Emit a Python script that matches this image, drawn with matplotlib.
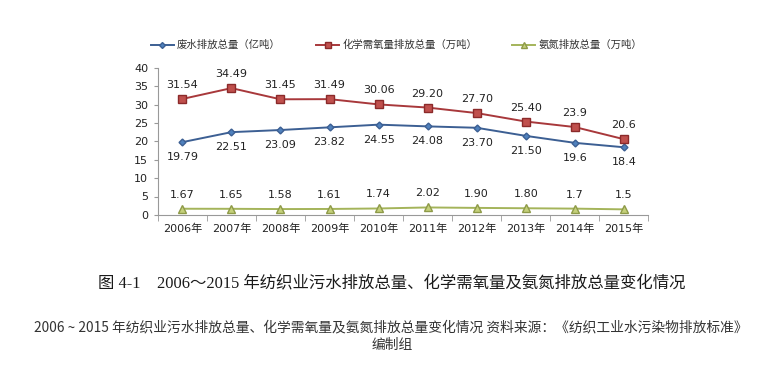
import matplotlib
matplotlib.use("Agg")
import matplotlib.pyplot as plt
from matplotlib.lines import Line2D

plt.rcParams['font.family'] = ['DejaVu Sans', 'Noto Sans CJK SC']

years = ["2006年", "2007年", "2008年", "2009年", "2010年", "2011年", "2012年", "2013年", "2014年", "2015年"]
wastewater = [19.79, 22.51, 23.09, 23.82, 24.55, 24.08, 23.70, 21.50, 19.6, 18.4]
wastewater_labels = ["19.79", "22.51", "23.09", "23.82", "24.55", "24.08", "23.70", "21.50", "19.6", "18.4"]
cod = [31.54, 34.49, 31.45, 31.49, 30.06, 29.20, 27.70, 25.40, 23.9, 20.6]
cod_labels = ["31.54", "34.49", "31.45", "31.49", "30.06", "29.20", "27.70", "25.40", "23.9", "20.6"]
ammonia = [1.67, 1.65, 1.58, 1.61, 1.74, 2.02, 1.90, 1.80, 1.7, 1.5]
ammonia_labels = ["1.67", "1.65", "1.58", "1.61", "1.74", "2.02", "1.90", "1.80", "1.7", "1.5"]
series_names = ["废水排放总量（亿吨）", "化学需氧量排放总量（万吨）", "氨氮排放总量（万吨）"]
yticks = [0, 5, 10, 15, 20, 25, 30, 35, 40]

fig = plt.figure(figsize=(7.7, 3.75), dpi=100)
ax = fig.add_axes([0.205, 0.427, 0.637, 0.392])

x = list(range(len(years)))
c_blue = "#3C5F93"
c_red = "#A8383B"
c_green = "#A4B45A"

ax.plot(x, wastewater, color=c_blue, lw=1.4, marker="D", ms=3.5, mfc="#4F81BD", mec=c_blue)
ax.plot(x, cod, color=c_red, lw=1.4, marker="s", ms=5.5, mfc="#C0504D", mec="#8B2A2A")
ax.plot(x, ammonia, color=c_green, lw=1.4, marker="^", ms=5.5, mfc="#C4D07A", mec="#8E9A48")

for xi, v, s in zip(x, wastewater, wastewater_labels):
    ax.annotate(s, (xi, v), xytext=(0, -15), textcoords="offset pixels", ha="center", va="center", fontsize=8, color="#222222")
for xi, v, s in zip(x, cod, cod_labels):
    ax.annotate(s, (xi, v), xytext=(0, 14), textcoords="offset pixels", ha="center", va="center", fontsize=8, color="#222222")
for xi, v, s in zip(x, ammonia, ammonia_labels):
    ax.annotate(s, (xi, v), xytext=(0, 14), textcoords="offset pixels", ha="center", va="center", fontsize=8, color="#222222")

ax.set_xlim(-0.5, len(years) - 0.5)
ax.set_ylim(0, 40)
ax.set_yticks(yticks)
ax.set_yticklabels([str(t) for t in yticks], fontsize=8, color="#222222")
ax.set_xticks(x)
ax.set_xticklabels(years, fontsize=8, color="#222222")
ax.set_xticks([i + 0.5 for i in range(-1, len(years))], minor=True)
ax.tick_params(axis="x", which="major", length=0, pad=6)
ax.tick_params(axis="x", which="minor", length=4, color="#999999")
ax.tick_params(axis="y", length=3, color="#999999", pad=4)
for sp in ["top", "right"]:
    ax.spines[sp].set_visible(False)
for sp in ["left", "bottom"]:
    ax.spines[sp].set_color("#999999")

handles = [
    Line2D([], [], color=c_blue, lw=1.4, marker="D", ms=3, mfc="#4F81BD", mec=c_blue),
    Line2D([], [], color=c_red, lw=1.4, marker="s", ms=4.5, mfc="#C0504D", mec="#8B2A2A"),
    Line2D([], [], color=c_green, lw=1.4, marker="^", ms=4.5, mfc="#C4D07A", mec="#8E9A48"),
]
fig.legend(handles, series_names, loc="center", bbox_to_anchor=(0.515, 0.88), ncol=3, frameon=False,
           prop={"family": ["Noto Sans CJK SC"], "size": 7.5}, handlelength=2.2, columnspacing=3.4, handletextpad=0.3,
           labelcolor="#333333")

fig.text(0.509, 0.245, "图 4-1    2006～2015 年纺织业污水排放总量、化学需氧量及氨氮排放总量变化情况",
         ha="center", va="center", fontsize=11.8, fontweight="medium", color="#1a1a1a",
         family=["Liberation Serif", "Noto Sans CJK SC"])
fig.text(0.507, 0.128, "2006 ~ 2015 年纺织业污水排放总量、化学需氧量及氨氮排放总量变化情况 资料来源：《纺织工业水污染物排放标准》",
         ha="center", va="center", fontsize=9.9, color="#333333",
         family=["Noto Sans CJK SC", "DejaVu Sans"])
fig.text(0.509, 0.08, "编制组", ha="center", va="center", fontsize=9.9, color="#333333",
         family=["Noto Sans CJK SC", "DejaVu Sans"])

fig.savefig("out.png", dpi=100, facecolor="white")
